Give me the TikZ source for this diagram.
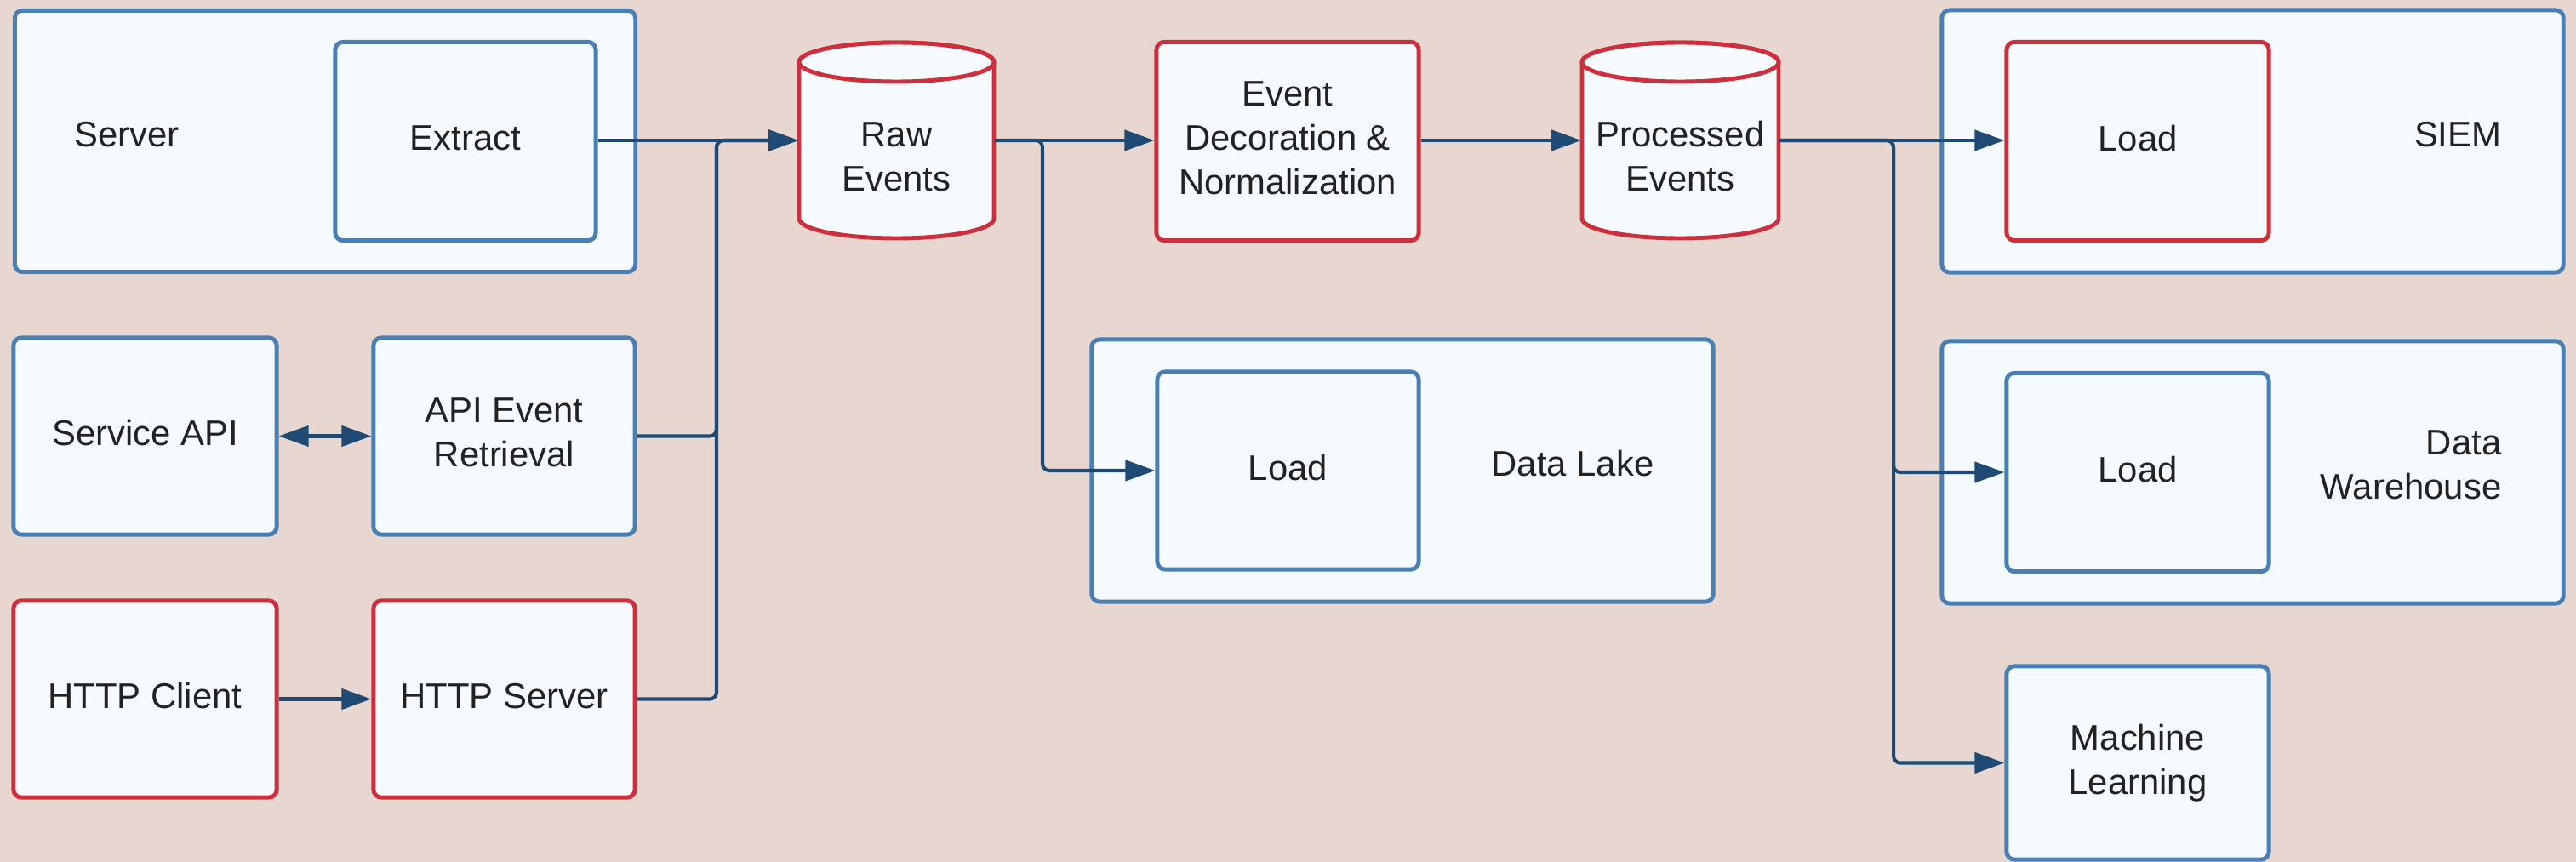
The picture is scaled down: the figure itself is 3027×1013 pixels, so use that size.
\documentclass[tikz,border=0pt]{standalone}
\usepackage{fontspec}
\setmainfont{Liberation Sans}
\usetikzlibrary{arrows.meta}
\definecolor{bgcol}{HTML}{E8D6D1}
\definecolor{boxfill}{HTML}{F5FAFE}
\definecolor{boxblue}{HTML}{4A7FB3}
\definecolor{boxred}{HTML}{CE2F3D}
\definecolor{linkcol}{HTML}{1F4A74}
\definecolor{txtcol}{HTML}{222222}
\newcommand{\lblfont}{\fontsize{11.9}{14.8}\selectfont}
% optical centring of box captions
\newcommand{\oneline}[1]{\raisebox{0.08cm}{#1}}
\newcommand{\lines}[1]{\raisebox{0.04cm}{\begin{tabular}{@{}c@{}}#1\end{tabular}}}

\begin{document}
\begin{tikzpicture}[x=0.01cm, y=-0.01cm,
  blubox/.style={draw=boxblue, fill=boxfill, line width=1.4pt, rounded corners=0.09cm,
                 inner sep=0pt, align=center, text=txtcol, font=\lblfont},
  redbox/.style={blubox, draw=boxred},
  cylnode/.style={inner sep=0pt, align=center, text=txtcol, font=\lblfont},
  cylline/.style={draw=boxred, fill=boxfill, line width=1.4pt},
  lbl/.style={inner sep=0pt, align=center, text=txtcol, font=\lblfont},
  outerbox/.style={blubox, minimum width=7.30cm, minimum height=3.08cm},
  innerbox/.style={minimum width=3.08cm, minimum height=2.33cm},
  conn/.style={draw=linkcol, line width=1.15pt, rounded corners=0.08cm},
  tip/.style={-{Triangle[length=0.35cm, width=0.24cm]}},
  dtip/.style={{Triangle[length=0.35cm, width=0.24cm]}-{Triangle[length=0.35cm, width=0.24cm]}}
]
% canvas
\fill[bgcol] (0,0) rectangle (3027,1013);
\clip (0,0) rectangle (3027,1013);
\useasboundingbox (0,0) rectangle (3027,1013);

% ---- sources ----
\node[outerbox, minimum width=7.29cm, minimum height=3.07cm] (server) at (382,166) {};
\node[lbl] (serverlbl) at (149,158) {Server};
\node[blubox, innerbox, minimum width=3.06cm] (extract) at (547,166) {\oneline{Extract}};

\node[blubox, innerbox, minimum width=3.09cm, minimum height=2.31cm] (svcapi) at (170.5,512.5) {\oneline{Service API}};
\node[blubox, innerbox, minimum width=3.07cm, minimum height=2.31cm] (apiret) at (592.5,512.5) {\lines{API Event\\Retrieval}};
\node[redbox, innerbox, minimum width=3.09cm, minimum height=2.31cm] (httpc) at (170.5,821.5) {\oneline{HTTP Client}};
\node[redbox, innerbox, minimum width=3.07cm, minimum height=2.31cm] (https) at (592.5,821.5) {\oneline{HTTP Server}};

% ---- raw events store ----
\path[cylline] (939,73) -- (939,257) arc[start angle=180, end angle=0, x radius=114.5, y radius=23]
  -- (1168,73) arc[start angle=0, end angle=-180, x radius=114.5, y radius=23] -- cycle;
\draw[cylline] (1053.5,73) ellipse [x radius=114.5, y radius=23];
\node[cylnode, minimum width=2.29cm, minimum height=2.30cm] (raw) at (1053.5,165) {};
\node[lbl] (rawlbl) at (1053.5,184) {Raw\\Events};

% ---- normalisation ----
\node[redbox, innerbox] (evdec) at (1513,166) {\lines{Event\\Decoration \&\\Normalization}};

% ---- processed events store ----
\path[cylline] (1859,73) -- (1859,257) arc[start angle=180, end angle=0, x radius=115.5, y radius=23]
  -- (2090,73) arc[start angle=0, end angle=-180, x radius=115.5, y radius=23] -- cycle;
\draw[cylline] (1974.5,73) ellipse [x radius=115.5, y radius=23];
\node[cylnode, minimum width=2.31cm, minimum height=2.30cm] (proc) at (1974.5,165) {};
\node[lbl] (proclbl) at (1974.5,184) {Processed\\Events};

% ---- data lake ----
\node[outerbox] (lake) at (1648,553) {};
\node[blubox, innerbox, minimum width=3.07cm, minimum height=2.32cm] (lakeload) at (1513.5,553) {\oneline{Load}};
\node[lbl] (lakelbl) at (1848,545) {Data Lake};

% ---- SIEM ----
\node[outerbox] (siem) at (2647,166) {};
\node[redbox, innerbox] (siemload) at (2512,166) {\oneline{Load}};
\node[lbl, anchor=east] (siemlbl) at (2940,158) {SIEM};

% ---- data warehouse ----
\node[outerbox] (dw) at (2647,555) {};
\node[blubox, innerbox] (dwload) at (2512,555) {\oneline{Load}};
\node[lbl, anchor=east, align=right] (dwlbl) at (2940,546) {Data\\Warehouse};

% ---- machine learning ----
\node[blubox, innerbox, minimum height=2.27cm] (ml) at (2512,896.5) {Machine\\Learning};

% ---- connectors ----
\coordinate (j1) at (842,165);
\coordinate (j2) at (1225,165);
\coordinate (j3) at (2225,165);

\draw[conn, tip] (extract.east |- raw.west) -- (raw.west);
\draw[conn, tip] (apiret.east) -| (j1) -- (raw.west);
\draw[conn, tip] (https.east) -| (j1) -- (raw.west);
\draw[conn, dtip] (svcapi.east) -- (apiret.west);
\draw[conn, tip] (httpc.east) -- (https.west);

\draw[conn, tip] (raw.east) -- (evdec.west |- raw.east);
\draw[conn, tip] (raw.east) -- (j2) |- (lakeload.west);
\draw[conn, tip] (evdec.east |- proc.west) -- (proc.west);

\draw[conn, tip] (proc.east) -- (siemload.west |- proc.east);
\draw[conn, tip] (proc.east) -- (j3) |- (dwload.west);
\draw[conn, tip] (proc.east) -- (j3) |- (ml.west);
\end{tikzpicture}
\end{document}
